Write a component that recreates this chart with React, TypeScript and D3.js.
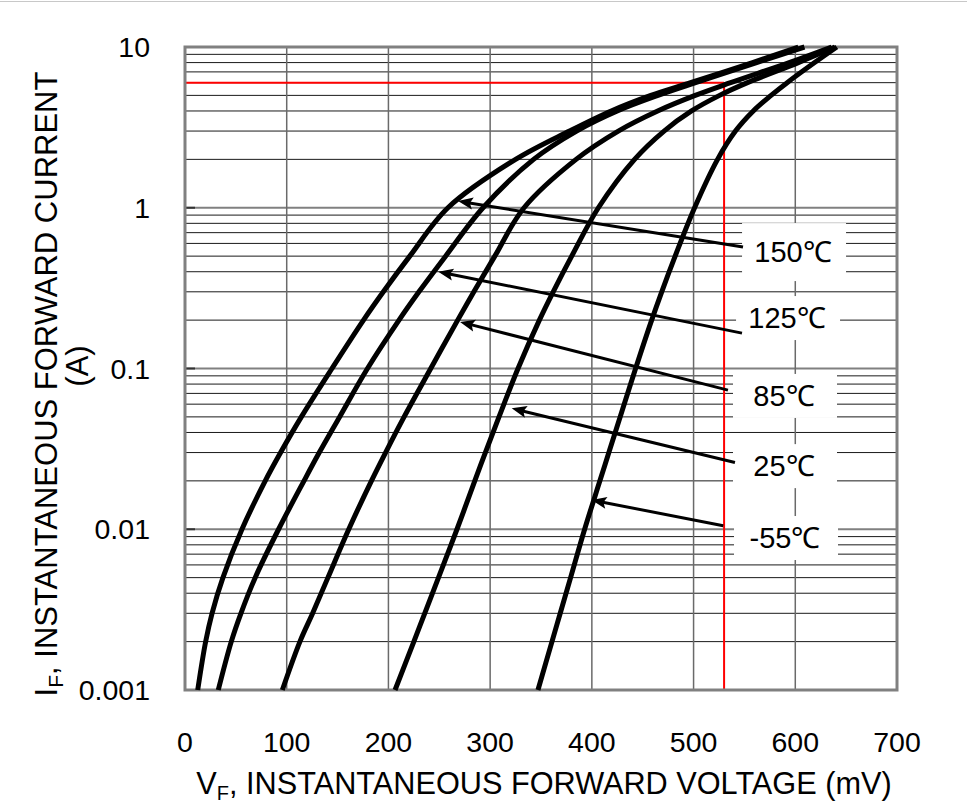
import React from 'react';
import * as d3 from 'd3';

// Forward current levels (A) at which voltages were read
const CURRENTS = [0.001, 0.002, 0.003, 0.005, 0.01, 0.02, 0.03, 0.05, 0.1, 0.2, 0.3, 0.5, 1, 2, 3, 4, 5, 6, 8, 10];
// Forward voltage (mV) per temperature
const V_150 = [12.5, 20.3, 26.6, 37.3, 56, 78.9, 94, 114.4, 144.5, 175.5, 195, 221, 258.5, 325, 378, 419, 458, 497, 558, 603];
const V_125 = [32.7, 45.5, 55, 69, 92, 117, 132, 152, 179.4, 210.4, 230, 256.2, 293, 342.7, 385, 425, 465, 502, 562, 609];
const V_85 = [95.7, 113, 125.5, 140.5, 161, 183.3, 197.2, 215.4, 241.6, 268.1, 284, 304.6, 333.3, 384.5, 426, 464.7, 501.6, 536.4, 594, 635.7];
const V_25 = [206.5, 225, 235.7, 249.2, 267.4, 284.9, 295.3, 308.7, 327.4, 348.4, 362, 380.2, 406.4, 442, 471, 498, 525.6, 553, 603, 639];
const V_M55 = [347, 360.8, 368.9, 379.1, 392.9, 407.9, 416.7, 427.8, 443, 458.8, 468.7, 481.9, 501, 523.6, 541.2, 558.7, 576.2, 592, 619, 640.8];
const SERIES = [V_150, V_125, V_85, V_25, V_M55];
const SERIES_NAMES = ['150℃', '125℃', '85℃', '25℃', '-55℃'];

const X_TICKS = [0, 100, 200, 300, 400, 500, 600, 700];
const Y_TICKS = [0.001, 0.01, 0.1, 1, 10];
const Y_TICK_LABELS = ['0.001', '0.01', '0.1', '1', '10'];

// Annotation anchors (data coordinates)
const LABEL_V = [597.8, 591.9, 588.9, 588.9, 589.9];
const LABEL_I = [0.53, 0.206, 0.0675, 0.0247, 0.00882];
const ARROW_TAIL_V = [548.6, 547.6, 533.8, 540.7, 529.2];
const ARROW_TAIL_I = [0.57, 0.166, 0.0734, 0.026, 0.0105];
const ARROW_TIP_V = [268.4, 249, 270.4, 321.2, 399.8];
const ARROW_TIP_I = [1.1, 0.4, 0.195, 0.0565, 0.0152];

const MARK_V = 530;
const MARK_I = 6;

const W = 967;
const H = 804;
const M = { left: 185, right: 70, top: 47, bottom: 114 };
const FONT = '"Liberation Sans", Arial, sans-serif';

export default function App() {
  const x = d3.scaleLinear().domain([0, 700]).range([M.left, W - M.right]);
  const y = d3.scaleLog().domain([0.001, 10]).range([H - M.bottom, M.top]);
  const x0 = x.range()[0], x1 = x.range()[1];
  const yTop = y.range()[1], yBot = y.range()[0];

  const minor: number[] = [];
  [0.001, 0.01, 0.1, 1].forEach((d) => {
    for (let k = 2; k <= 9; k++) minor.push(d * k);
  });

  const line = d3
    .line<[number, number]>()
    .x((d) => x(d[0]))
    .y((d) => y(d[1]))
    .curve(d3.curveCatmullRom.alpha(0.5));

  return (
    <svg
      width={W}
      height={H}
      style={{ position: 'absolute', left: 0, top: 0, background: '#fff' }}
      fontFamily={FONT}
    >
      <line x1={0} x2={W} y1={1.5} y2={1.5} stroke="#c8c8c8" strokeWidth={1} />

      {/* minor horizontal grid */}
      {minor.map((v, i) => (
        <line key={'mn' + i} x1={x0} x2={x1} y1={y(v)} y2={y(v)} stroke="#1a1a1a" strokeWidth={1} />
      ))}
      {/* decade lines */}
      {Y_TICKS.map((v, i) => (
        <line key={'dc' + i} x1={x0} x2={x1} y1={y(v)} y2={y(v)} stroke="#808080" strokeWidth={2} />
      ))}
      {/* vertical grid */}
      {X_TICKS.map((v, i) => (
        <line key={'vg' + i} x1={x(v)} x2={x(v)} y1={yTop} y2={yBot} stroke="#6a6a6a" strokeWidth={1.5} />
      ))}
      {/* left tick stubs */}
      {Y_TICKS.map((v, i) => (
        <line key={'ts' + i} x1={x0} x2={x0 + 10} y1={y(v)} y2={y(v)} stroke="#333" strokeWidth={2} />
      ))}

      {/* red marker lines */}
      <line x1={x0} x2={x(MARK_V)} y1={y(MARK_I)} y2={y(MARK_I)} stroke="#ff0000" strokeWidth={2} />
      <line x1={x(MARK_V)} x2={x(MARK_V)} y1={y(MARK_I)} y2={yBot} stroke="#ff0000" strokeWidth={2} />

      {/* label boxes */}
      {SERIES_NAMES.map((n, i) => (
        <rect
          key={'lb' + i}
          x={x(LABEL_V[i]) - 51}
          y={y(LABEL_I[i]) - (i === 0 ? 29 : 22)}
          width={104}
          height={i === 0 ? 58 : 44}
          fill="#fff"
        />
      ))}

      {/* frame */}
      <rect x={x0} y={yTop} width={x1 - x0} height={yBot - yTop} fill="none" stroke="#808080" strokeWidth={3} />

      {/* curves */}
      {SERIES.map((vs, i) => (
        <path
          key={'c' + i}
          d={line(vs.map((v, j) => [v, CURRENTS[j]] as [number, number])) || ''}
          fill="none"
          stroke="#000"
          strokeWidth={5}
          strokeLinejoin="round"
          strokeLinecap="butt"
        />
      ))}

      {/* arrows */}
      {SERIES_NAMES.map((n, i) => {
        const tx = x(ARROW_TAIL_V[i]), ty = y(ARROW_TAIL_I[i]);
        const hx = x(ARROW_TIP_V[i]), hy = y(ARROW_TIP_I[i]);
        const dx = hx - tx, dy = hy - ty;
        const len = Math.sqrt(dx * dx + dy * dy);
        const ux = dx / len, uy = dy / len;
        const ex = hx - ux * 10, ey = hy - uy * 10;
        return (
          <g key={'ar' + i}>
            <line x1={tx} y1={ty} x2={ex} y2={ey} stroke="#000" strokeWidth={3} />
            <path
              d={`M${hx},${hy} L${hx - ux * 15 - uy * 6},${hy - uy * 15 + ux * 6} L${hx - ux * 12},${hy - uy * 12} L${hx - ux * 15 + uy * 6},${hy - uy * 15 - ux * 6} Z`}
              fill="#000"
            />
          </g>
        );
      })}

      {/* label text */}
      {SERIES_NAMES.map((n, i) => (
        <text key={'lt' + i} x={x(LABEL_V[i])} y={y(LABEL_I[i]) + 10} fontSize={29} textAnchor="middle" fill="#000">
          {n}
        </text>
      ))}

      {/* y tick labels */}
      {Y_TICKS.map((v, i) => (
        <text key={'yl' + i} x={x0 - 35} y={y(v) + 10} fontSize={28.5} textAnchor="end" fill="#000">
          {Y_TICK_LABELS[i]}
        </text>
      ))}
      {/* x tick labels */}
      {X_TICKS.map((v, i) => (
        <text key={'xl' + i} x={x(v)} y={yBot + 62} fontSize={28.5} textAnchor="middle" fill="#000">
          {String(v)}
        </text>
      ))}

      {/* x axis title */}
      <text x={(x0 + x1) / 2 + 3} y={794} fontSize={30.7} textAnchor="middle" fill="#000">
        V<tspan fontSize={20} dy={6}>F</tspan>
        <tspan dy={-6}>, INSTANTANEOUS FORWARD VOLTAGE (mV)</tspan>
      </text>

      {/* y axis title */}
      <g transform="translate(57,384) rotate(-90)">
        <text x={0} y={0} fontSize={31} textAnchor="middle" fill="#000">
          I<tspan fontSize={21} dy={6}>F</tspan>
          <tspan dy={-6}>, INSTANTANEOUS FORWARD CURRENT</tspan>
        </text>
      </g>
      <g transform="translate(88,366) rotate(-90)">
        <text x={0} y={0} fontSize={31} textAnchor="middle" fill="#000">
          (A)
        </text>
      </g>
    </svg>
  );
}
